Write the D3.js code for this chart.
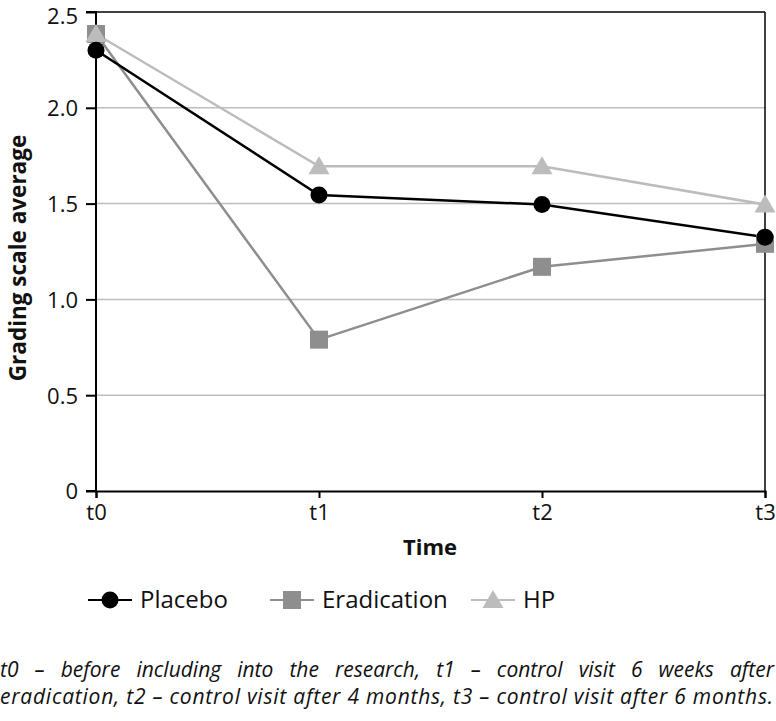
<!DOCTYPE html>
<html><head><meta charset="utf-8">
<script src="https://cdn.jsdelivr.net/npm/d3@7"></script>
<style>body{margin:0;background:#fff;} svg{display:block;font-family:"Open Sans","Noto Sans",sans-serif;}</style>
</head><body>
<svg id="c" width="776" height="721"></svg>
<script>
const categories = ["t0","t1","t2","t3"];
const placebo = [2.30, 1.545, 1.495, 1.325];
const eradication = [2.385, 0.79, 1.17, 1.29];
const hp = [2.385, 1.695, 1.695, 1.495];
const yTicks = [0, 0.5, 1.0, 1.5, 2.0, 2.5];
const yTickLabels = ["0","0.5","1.0","1.5","2.0","2.5"];
const seriesNames = ["Placebo","Eradication","HP"];
const footLine1 = "t0 – before including into the research, t1 – control visit 6 weeks after";
const footLine2 = "eradication, t2 – control visit after 4 months, t3 – control visit after 6 months.";

const svg = d3.select("#c");
const x = d3.scalePoint().domain(categories).range([96, 765]);
const y = d3.scaleLinear().domain([0, 2.5]).range([491, 12]);

// gridlines
svg.append("g").selectAll("line").data(yTicks.filter(d => d > 0 && d < 2.5)).join("line")
  .attr("x1", 96).attr("x2", 765).attr("y1", d => y(d)).attr("y2", d => y(d))
  .attr("stroke", "#bdbdbd").attr("stroke-width", 1.5);
// top & right frame
svg.append("line").attr("x1", 96).attr("x2", 765).attr("y1", y(2.5)).attr("y2", y(2.5)).attr("stroke", "#000").attr("stroke-width", 1.5);
svg.append("line").attr("x1", 765).attr("x2", 765).attr("y1", y(2.5)).attr("y2", y(0)).attr("stroke", "#000").attr("stroke-width", 1.5);

// axes
const yAxis = d3.axisLeft(y).tickValues(yTicks).tickFormat((d, i) => yTickLabels[i]).tickSize(10).tickPadding(8);
const gy = svg.append("g").attr("transform", "translate(96,0)").call(yAxis);
const xAxis = d3.axisBottom(x).tickSize(7).tickPadding(6);
const gx = svg.append("g").attr("transform", `translate(0,${y(0)})`).call(xAxis);
[gy, gx].forEach(g => {
  g.select(".domain").attr("stroke", "#000").attr("stroke-width", 2);
  g.selectAll(".tick line").attr("stroke", "#000").attr("stroke-width", 2);
  g.selectAll(".tick text").attr("fill", "#111").style("font-size", "22px").style("font-family", '"Open Sans","Noto Sans",sans-serif');
});
gy.selectAll(".tick text").attr("dy", d => d === 2.5 ? "0.5em" : "0.36em");
gy.select(".domain").attr("d", `M-10,${y(2.5)}H0V${y(0)}H-10`);

// axis titles
svg.append("text").attr("x", 430).attr("y", 555).attr("text-anchor", "middle")
  .style("font-size", "22px").style("font-weight", "bold").attr("fill", "#111").text("Time");
svg.append("text").attr("transform", `translate(26,258) rotate(-90)`).attr("text-anchor", "middle")
  .style("font-size", "22.5px").style("font-weight", "bold").attr("fill", "#111").text("Grading scale average");

const series = [
  {name: seriesNames[0], values: placebo, color: "#000000", shape: "circle"},
  {name: seriesNames[1], values: eradication, color: "#8e8e8e", shape: "square"},
  {name: seriesNames[2], values: hp, color: "#bcbcbc", shape: "triangle"}
];
const line = d3.line().x((d, i) => x(categories[i])).y(d => y(d));
function marker(g, shape, color, cx, cy) {
  if (shape === "circle") g.append("circle").attr("cx", cx).attr("cy", cy).attr("r", 8.5).attr("fill", color);
  else if (shape === "square") g.append("rect").attr("x", cx - 9).attr("y", cy - 9).attr("width", 18).attr("height", 18).attr("fill", color);
  else g.append("path").attr("d", `M${cx},${cy - 10}L${cx + 10.5},${cy + 8}L${cx - 10.5},${cy + 8}Z`).attr("fill", color);
}
const order = [1, 2, 0];
order.forEach(k => {
  const s = series[k];
  svg.append("path").datum(s.values).attr("d", line).attr("fill", "none").attr("stroke", s.color).attr("stroke-width", 2.5);
});
order.forEach(k => {
  const s = series[k];
  const g = svg.append("g");
  s.values.forEach((v, i) => marker(g, s.shape, s.color, x(categories[i]), y(v)));
});

// legend
const legX = [88, 270, 471];
series.forEach((s, k) => {
  const g = svg.append("g");
  const lx = legX[k], ly = 600;
  g.append("line").attr("x1", lx).attr("x2", lx + 44).attr("y1", ly).attr("y2", ly).attr("stroke", s.color).attr("stroke-width", 2);
  marker(g, s.shape, s.color, lx + 22, ly);
  g.append("text").attr("x", lx + 52).attr("y", ly + 8).style("font-size", "24px").attr("fill", "#111").text(s.name);
});

// footnote
const f1 = svg.append("text").attr("x", 0).attr("y", 677).style("font-size", "21px").style("font-style", "italic").attr("fill", "#111").text(footLine1);
const w1 = f1.node().getComputedTextLength();
const nSp1 = footLine1.split(" ").length - 1;
f1.attr("word-spacing", (774 - w1) / nSp1);
const f2 = svg.append("text").attr("x", 0).attr("y", 704).style("font-size", "21px").style("font-style", "italic").attr("fill", "#111").text(footLine2);
f2.attr("textLength", 773).attr("lengthAdjust", "spacing");
</script>
</body></html>
